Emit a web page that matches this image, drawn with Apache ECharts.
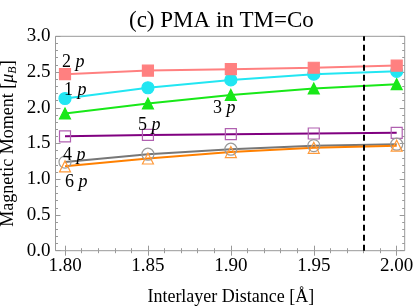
<!DOCTYPE html>
<html><head><meta charset="utf-8">
<script src="https://cdn.jsdelivr.net/npm/echarts@6/dist/echarts.min.js"></script>
<style>html,body{margin:0;padding:0;background:#fff}#c{width:415px;height:308px}</style>
</head><body><div id="c"></div>
<script>
const distances = [1.80, 1.85, 1.90, 1.95, 2.00];
const p1 = [2.13, 2.28, 2.39, 2.47, 2.51];
const p2 = [2.47, 2.52, 2.54, 2.56, 2.59];
const p3 = [1.92, 2.06, 2.18, 2.27, 2.33];
const p4 = [1.24, 1.35, 1.42, 1.47, 1.49];
const p5 = [1.60, 1.62, 1.63, 1.64, 1.65];
const p6 = [1.18, 1.29, 1.38, 1.44, 1.47];
const refDistance = 1.98;
const xTicks = ['1.80', '1.85', '1.90', '1.95', '2.00'];
const yTicks = ['0.0', '0.5', '1.0', '1.5', '2.0', '2.5', '3.0'];
const seriesNames = ['1 p', '2 p', '3 p', '4 p', '5 p', '6 p'];
// label anchors (left edge, vertical middle) in data coordinates
const labelAnchors = [[1.7994, 2.25], [1.7982, 2.64], [1.8892, 2.0], [1.7988, 1.34], [1.8440, 1.76], [1.8000, 0.96]];

const FONT = 'Liberation Serif';
const chart = echarts.init(document.getElementById('c'), null, {renderer: 'canvas'});
const pair = v => v.map((y, i) => [distances[i], y]);

const styles = [
  {line: '#22e6f2', fill: '#22e6f2', border: '#22e6f2', sym: 'circle', size: 12},
  {line: '#ff8080', fill: '#ff8080', border: '#ff8080', sym: 'rect', size: 11},
  {line: '#18e818', fill: '#18e818', border: '#18e818', sym: 'triangle', size: 11},
  {line: '#777777', fill: 'rgba(0,0,0,0)', border: '#9a9a9a', sym: 'circle', size: 12},
  {line: '#800080', fill: 'rgba(0,0,0,0)', border: '#b060b0', sym: 'rect', size: 11},
  {line: '#ff8000', fill: 'rgba(0,0,0,0)', border: '#ff9a3a', sym: 'triangle', size: 11}
];
const values = [p1, p2, p3, p4, p5, p6];
const drawOrder = [4, 3, 5, 2, 0, 1];

const series = drawOrder.map(k => ({
  name: seriesNames[k], type: 'line', xAxisIndex: 0, yAxisIndex: 0,
  data: pair(values[k]), symbol: styles[k].sym, symbolSize: styles[k].size,
  showAllSymbol: true,
  lineStyle: {color: styles[k].line, width: 2},
  itemStyle: {color: styles[k].fill, borderColor: styles[k].border, borderWidth: 1.2, opacity: 1},
  emphasis: {disabled: true}, animation: false
}));
series.push({
  type: 'line', xAxisIndex: 0, yAxisIndex: 0, data: [], animation: false,
  markLine: {silent: true, symbol: ['none', 'none'], label: {show: false},
    lineStyle: {color: '#000', width: 2, type: [6, 4]}, data: [{xAxis: refDistance}]}
});

const tickCol = '#999';
const xBase = {
  gridIndex: 0, type: 'value', min: 1.80, max: 2.00, interval: 0.05,
  axisLine: {show: false}, splitLine: {show: false},
  axisTick: {show: true, inside: true, length: 5, lineStyle: {color: tickCol}},
  minorTick: {show: true, splitNumber: 5, length: 2.5, lineStyle: {color: tickCol}}
};
const yBase = {
  gridIndex: 0, type: 'value', min: 0, max: 3, interval: 0.5,
  axisLine: {show: false}, splitLine: {show: false},
  axisTick: {show: true, inside: true, length: 5, lineStyle: {color: tickCol}},
  minorTick: {show: true, splitNumber: 5, length: 2.5, lineStyle: {color: tickCol}}
};

chart.setOption({
  animation: false,
  title: {text: '(c) PMA in TM=Co', left: 124, top: 4,
    textStyle: {fontFamily: FONT, fontSize: 23, fontWeight: 'normal', color: '#000'}},
  grid: [
    {left: 65, right: 18.3, top: 36.3, bottom: 57.3, containLabel: false, outerBoundsMode: 'none'},
    {left: 55.5, right: 10.3, top: 36.3, bottom: 57.3, containLabel: false, outerBoundsMode: 'none',
      show: true, borderColor: '#999', borderWidth: 1, backgroundColor: 'transparent'}
  ],
  xAxis: [
    Object.assign({}, xBase, {position: 'bottom',
      axisLabel: {margin: 6, fontFamily: FONT, fontSize: 19, color: '#000',
        formatter: v => xTicks[Math.round((v - 1.80) / 0.05)]},
      name: 'Interlayer Distance [Å]', nameLocation: 'middle', nameGap: 38,
      nameTextStyle: {fontFamily: FONT, fontSize: 18, color: '#000'}}),
    Object.assign({}, xBase, {position: 'top', axisLabel: {show: false}}),
    {gridIndex: 1, type: 'value', show: false, min: 0, max: 1}
  ],
  yAxis: [
    Object.assign({}, yBase, {position: 'left', offset: 9.5,
      axisLabel: {margin: 5, fontFamily: FONT, fontSize: 19, color: '#000',
        formatter: v => yTicks[Math.round(v / 0.5)]},
      name: '{n|Magnetic Moment [}{mu|μ}{sub|B}{n|]}', nameLocation: 'middle', nameGap: 37,
      nameMoveOverlap: false,
      nameTextStyle: {fontFamily: FONT, fontSize: 18, color: '#000',
        rich: {n: {fontFamily: FONT, fontSize: 18, color: '#000'},
               mu: {fontFamily: FONT, fontSize: 18, fontStyle: 'italic', color: '#000'},
               sub: {fontFamily: FONT, fontSize: 12, fontStyle: 'italic', color: '#000', padding: [9, 0, 0, 0]}}}}),
    Object.assign({}, yBase, {position: 'right', offset: 8, axisLabel: {show: false}}),
    {gridIndex: 1, type: 'value', show: false, min: 0, max: 1}
  ],
  series: series
});

const graphics = seriesNames.map((nm, k) => {
  const pt = chart.convertToPixel({gridIndex: 0}, labelAnchors[k]);
  const parts = nm.split(' ');
  return {
    type: 'text', x: pt[0], y: pt[1], z: 100,
    style: {
      text: '{a|' + parts[0] + ' }{b|' + parts[1] + '}',
      align: 'left', verticalAlign: 'middle', textAlign: 'left', textVerticalAlign: 'middle',
      rich: {a: {fontFamily: FONT, fontSize: 18, fill: '#000'},
             b: {fontFamily: FONT, fontSize: 18, fontStyle: 'italic', fill: '#000'}}
    }
  };
});
chart.setOption({graphic: graphics});
</script>
</body></html>
